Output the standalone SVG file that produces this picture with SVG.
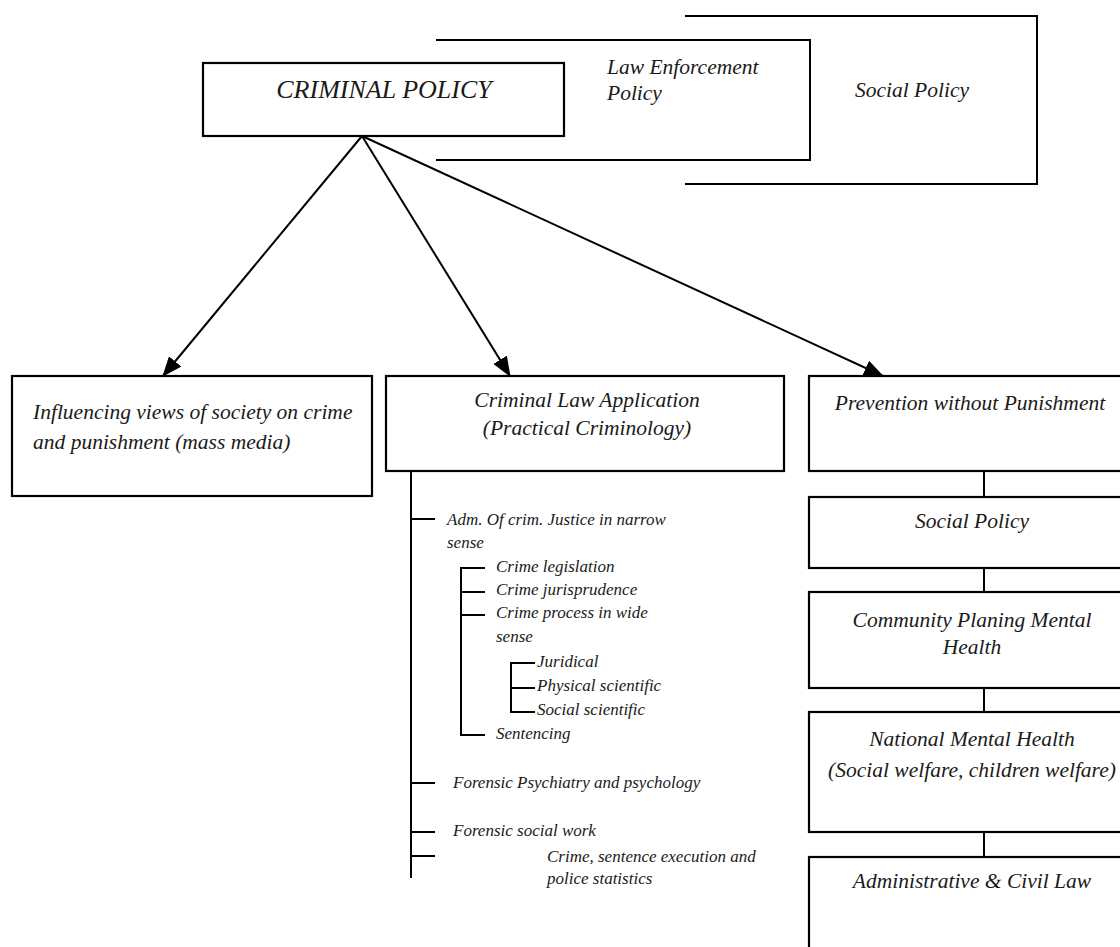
<svg xmlns="http://www.w3.org/2000/svg" width="1120" height="947" viewBox="0 0 1120 947">
<style>
.box{fill:#fff;stroke:#000;stroke-width:2.2}
.ln{fill:none;stroke:#000;stroke-width:2}
.t{font-family:"Liberation Serif","Times New Roman",serif;font-style:italic;fill:#1a1a1a}
.big{font-size:21.5px}
.sm{font-size:17px}
.mid{text-anchor:middle}
</style>
<defs>
<marker id="ah" markerWidth="20" markerHeight="16" refX="19" refY="8" orient="auto" markerUnits="userSpaceOnUse">
<path d="M0,0 L20,8 L0,16 z" fill="#000"/>
</marker>
</defs>
<rect width="1120" height="947" fill="#fff"/>

<g id="social-policy-top">
<path class="ln" d="M685,16 H1037 V184 H685"/>
<text class="t big" x="855" y="97">Social Policy</text>
</g>

<g id="law-enforcement-policy">
<path class="ln" d="M436,40 H810 V160 H436"/>
<text class="t big" x="607" y="74">Law Enforcement</text>
<text class="t big" x="607" y="100">Policy</text>
</g>

<g id="criminal-policy">
<rect class="box" x="203" y="63" width="361" height="73"/>
<text class="t mid" style="font-size:26px" x="384" y="98">CRIMINAL POLICY</text>
</g>

<g id="connectors">
<line class="ln" x1="362" y1="136" x2="163" y2="376" marker-end="url(#ah)"/>
<line class="ln" x1="362" y1="136" x2="510" y2="376" marker-end="url(#ah)"/>
<line class="ln" x1="362" y1="136" x2="883" y2="376" marker-end="url(#ah)"/>
<line class="ln" x1="984" y1="471" x2="984" y2="497"/>
<line class="ln" x1="984" y1="568" x2="984" y2="592"/>
<line class="ln" x1="984" y1="688" x2="984" y2="712"/>
<line class="ln" x1="984" y1="832" x2="984" y2="857"/>
<line class="ln" x1="411" y1="471" x2="411" y2="878"/>
<line class="ln" x1="411" y1="519" x2="435" y2="519"/>
<line class="ln" x1="411" y1="783" x2="435" y2="783"/>
<line class="ln" x1="411" y1="832" x2="435" y2="832"/>
<line class="ln" x1="411" y1="856" x2="435" y2="856"/>
<path class="ln" d="M485,568 H461 V735 H485"/>
<line class="ln" x1="461" y1="592" x2="485" y2="592"/>
<line class="ln" x1="461" y1="615" x2="485" y2="615"/>
<path class="ln" d="M535,663 H511 V712 H535"/>
<line class="ln" x1="511" y1="688" x2="535" y2="688"/>
</g>

<g id="influencing-views">
<rect class="box" x="12" y="376" width="360" height="120"/>
<text class="t big" x="33" y="419">Influencing views of society on crime</text>
<text class="t big" x="33" y="449">and punishment (mass media)</text>
</g>

<g id="criminal-law-application">
<rect class="box" x="386" y="376" width="398" height="95"/>
<text class="t big mid" x="587" y="407">Criminal Law Application</text>
<text class="t big mid" x="587" y="435">(Practical Criminology)</text>
</g>

<g id="tree-items">
<text class="t sm" x="447" y="525">Adm. Of crim. Justice in narrow</text>
<text class="t sm" x="447" y="548">sense</text>
<text class="t sm" x="496" y="572">Crime legislation</text>
<text class="t sm" x="496" y="595">Crime jurisprudence</text>
<text class="t sm" x="496" y="618">Crime process in wide</text>
<text class="t sm" x="496" y="642">sense</text>
<text class="t sm" x="537" y="667">Juridical</text>
<text class="t sm" x="537" y="691">Physical scientific</text>
<text class="t sm" x="537" y="715">Social scientific</text>
<text class="t sm" x="496" y="739">Sentencing</text>
<text class="t sm" x="453" y="788">Forensic Psychiatry and  psychology</text>
<text class="t sm" x="453" y="836">Forensic social  work</text>
<text class="t sm" x="547" y="862">Crime, sentence execution and</text>
<text class="t sm" x="547" y="884">police statistics</text>
</g>

<g id="prevention">
<rect class="box" x="809" y="376" width="322" height="95"/>
<text class="t big mid" x="970" y="410">Prevention without Punishment</text>
</g>

<g id="social-policy">
<rect class="box" x="809" y="497" width="322" height="71"/>
<text class="t big mid" x="972" y="528">Social Policy</text>
</g>

<g id="community-planing">
<rect class="box" x="809" y="592" width="322" height="96"/>
<text class="t big mid" x="972" y="627">Community Planing Mental</text>
<text class="t big mid" x="972" y="654">Health</text>
</g>

<g id="national-mental-health">
<rect class="box" x="809" y="712" width="322" height="120"/>
<text class="t big mid" x="972" y="746">National Mental Health</text>
<text class="t big mid" x="972" y="777">(Social welfare, children welfare)</text>
</g>

<g id="administrative-civil-law">
<rect class="box" x="809" y="857" width="322" height="110"/>
<text class="t big mid" x="972" y="888">Administrative &amp; Civil Law</text>
</g>
</svg>
